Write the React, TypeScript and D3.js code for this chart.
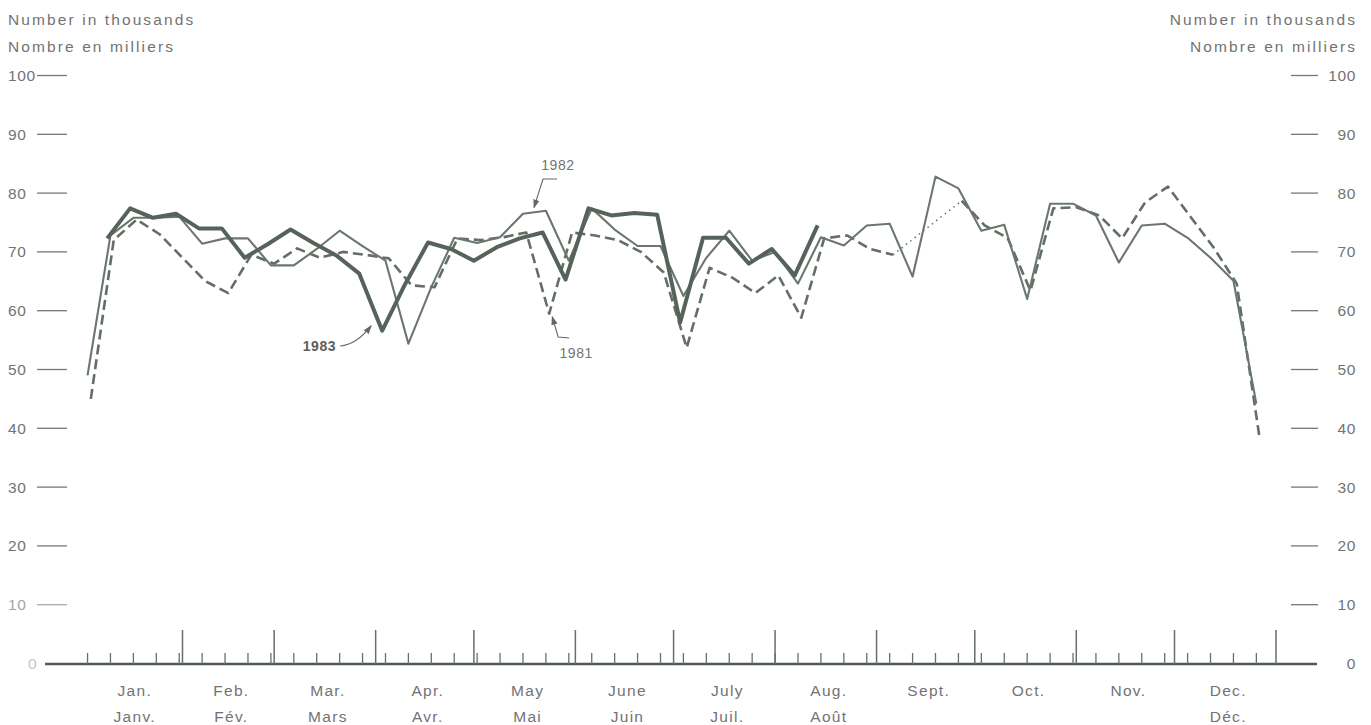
import React from "react";
import * as d3 from "d3";

// ---------- data ----------
const monthStartDays = [0, 31, 59, 90, 120, 151, 181, 212, 243, 273, 304, 334, 365];
const monthLabelsEn = ["Jan.", "Feb.", "Mar.", "Apr.", "May", "June", "July", "Aug.", "Sept.", "Oct.", "Nov.", "Dec."];
const monthLabelsFr = ["Janv.", "Fév.", "Mars", "Avr.", "Mai", "Juin", "Juil.", "Août", "", "", "", "Déc."];
const yTicks = [0, 10, 20, 30, 40, 50, 60, 70, 80, 90, 100];

// day-of-year (0 = Jan 1) of the first week-ending Saturday of each year
const firstWeekEnd1981 = 2;
const firstWeekEnd1982 = 1;
const firstWeekEnd1983 = 7;

// weekly values, number in thousands
const values1981: (number | null)[] = [
  45, 72, 75.5, 73, 69, 65, 63, 69.5, 68, 70.6,
  69, 70, 69.5, 68.9, 64.3, 64, 72.3, 72, 72.5, 73.3,
  59.5, 73.3, 72.8, 72, 70, 66.5, 53.7, 67.3, 65.6, 63,
  66, 58.8, 72.3, 72.8, 70.5, 69.5, null, null, 78.7, 74.5,
  72.4, 63.4, 77.4, 77.6, 76.2, 72.3, 78.4, 81.1, 75.9, 70.7,
  64.6, 38.3,
];
const values1982: number[] = [
  49, 72.8, 75.8, 75.8, 76, 71.4, 72.3, 72.3, 67.7, 67.7,
  70.5, 73.6, 71, 68.5, 54.4, 64, 72.4, 71.5, 72.5, 76.5,
  77, 68.5, 77.4, 73.8, 71, 71, 62.5, 69, 73.6, 68.5,
  70, 64.6, 72.5, 71.1, 74.5, 74.8, 65.8, 82.8, 80.8, 73.6,
  74.6, 62, 78.2, 78.2, 76.2, 68.2, 74.5, 74.8, 72.4, 69,
  65.1, 44.2,
];
const values1983: number[] = [
  72.3, 77.4, 75.8, 76.5, 74, 74, 69, 71.3, 73.8, 71.5,
  69.4, 66.3, 56.6, 64.5, 71.6, 70.5, 68.5, 70.8, 72.3, 73.3,
  65.3, 77.4, 76.2, 76.6, 76.3, 58, 72.4, 72.4, 68, 70.5,
  66, 74.5,
];
const weeklyTickCount = 52;

const FONT = "'Liberation Sans', Arial, Helvetica, sans-serif";
const TEXT = "#737373";
const LINE_THICK = "#56635a";
const LINE_THIN = "#6b776d";
const LINE_DASH = "#636e65";

type P = { d: number; v: number | null; i: number };

export default function App() {
  const W = 1371;
  const H = 725;
  const x = d3.scaleLinear().domain([0, 365]).range([81, 1276]);
  const y = d3.scaleLinear().domain([0, 100]).range([663.5, 75.5]);

  const toPts = (first: number, vals: (number | null)[]): P[] =>
    vals.map((v, i) => ({ d: first + 7 * i + 1, v, i }));

  const line = d3
    .line<P>()
    .defined((p) => p.v != null)
    .x((p) => x(p.d))
    .y((p) => y(p.v as number));

  const p81 = toPts(firstWeekEnd1981, values1981);
  const p82 = toPts(firstWeekEnd1982, values1982);
  const p83 = toPts(firstWeekEnd1983, values1983);

  // dotted bridges over missing weeks
  const bridges: P[][] = [];
  for (let i = 1; i < p81.length; i++) {
    if (p81[i].v == null && p81[i - 1].v != null) {
      let j = i;
      while (j < p81.length && p81[j].v == null) j++;
      if (j < p81.length) bridges.push([p81[i - 1], p81[j]]);
    }
  }

  const weekTicks = d3.range(weeklyTickCount).map((k) => firstWeekEnd1982 + 7 * k + 1);
  const monthEdges = monthStartDays.slice(1);

  const dip83 = p83[12];
  const peak82 = p82[19];
  const dip81 = p81[20];

  const baselineY = y(0) + 0.5;

  return (
    <div style={{ position: "absolute", left: 0, top: 0 }}>
      <svg width={W} height={H} viewBox={`0 0 ${W} ${H}`} style={{ display: "block", background: "#fff" }}>
        <defs>
          <marker id="arr" viewBox="0 0 10 10" refX="9" refY="5" markerWidth="9" markerHeight="9" orient="auto" markerUnits="userSpaceOnUse">
            <path d="M0,1.5 L10,5 L0,8.5 Z" fill="#666" />
          </marker>
        </defs>

        {/* headers */}
        <g fontFamily={FONT} fill={TEXT} fontSize={15.5} letterSpacing={2.1}>
          <text x={8} y={25}>Number in thousands</text>
          <text x={8} y={52}>Nombre en milliers</text>
          <text x={1357} y={25} textAnchor="end">Number in thousands</text>
          <text x={1357} y={52} textAnchor="end">Nombre en milliers</text>
        </g>

        {/* y ticks */}
        <g fontFamily={FONT} fontSize={15.5} letterSpacing={0.6}>
          {yTicks.map((t) => {
            const yy = y(t);
            const faded = t <= 10;
            return (
              <g key={t}>
                {t > 0 && <line x1={37} x2={67} y1={yy} y2={yy} stroke={faded ? "#aaa" : "#777"} strokeWidth={1.3} />}
                {t > 0 ? (
                  <text x={8} y={yy + 5.5} fill={faded ? "#a5a5a5" : TEXT}>{t}</text>
                ) : (
                  <text x={28} y={yy + 5.5} fill="#c4c4c4">{t}</text>
                )}
                {t > 0 && <line x1={1291} x2={1318} y1={yy} y2={yy} stroke="#777" strokeWidth={1.3} />}
                <text x={1356} y={yy + 5.5} fill={TEXT} textAnchor="end">{t}</text>
              </g>
            );
          })}
        </g>

        {/* x axis */}
        <line x1={45} x2={1317} y1={baselineY} y2={baselineY} stroke="#4f5a51" strokeWidth={2.5} />
        {weekTicks.map((d) => (
          <line key={"w" + d} x1={x(d)} x2={x(d)} y1={baselineY} y2={baselineY - 11} stroke="#66706a" strokeWidth={1.3} />
        ))}
        {monthEdges.map((d) => (
          <line key={"m" + d} x1={x(d)} x2={x(d)} y1={baselineY} y2={baselineY - 34} stroke="#66706a" strokeWidth={1.5} />
        ))}
        <g fontFamily={FONT} fill={TEXT} fontSize={15.5} letterSpacing={1.3} textAnchor="middle">
          {monthLabelsEn.map((m, k) => {
            const cx = x((monthStartDays[k] + monthStartDays[k + 1]) / 2) + 3;
            return (
              <g key={m}>
                <text x={cx} y={696}>{m}</text>
                {monthLabelsFr[k] && <text x={cx} y={722}>{monthLabelsFr[k]}</text>}
              </g>
            );
          })}
        </g>

        {/* series */}
        {bridges.map((b, k) => (
          <path key={"b" + k} d={line(b) || ""} fill="none" stroke={LINE_DASH} strokeWidth={1.5} strokeDasharray="1.5 4" />
        ))}
        <path d={line(p81) || ""} fill="none" stroke={LINE_DASH} strokeWidth={2.6} strokeDasharray="10 5" strokeLinejoin="round" />
        <path d={line(p82) || ""} fill="none" stroke={LINE_THIN} strokeWidth={2.1} strokeLinejoin="round" />
        <path d={line(p83) || ""} fill="none" stroke={LINE_THICK} strokeWidth={4} strokeLinejoin="round" />

        {/* annotations */}
        <g fontFamily={FONT} fontSize={14} fill={TEXT} letterSpacing={0.6}>
          <text x={x(dip83.d) - 46} y={351} textAnchor="end" fontWeight="bold" fill="#5e5e5e">1983</text>
          <path
            d={`M${x(dip83.d) - 42},${346} Q${x(dip83.d) - 26},${345} ${x(dip83.d) - 11},${y(dip83.v as number) - 5}`}
            fill="none" stroke="#666" strokeWidth={1.1} markerEnd="url(#arr)" />

          <text x={x(peak82.d) + 35} y={170} textAnchor="middle">1982</text>
          <path
            d={`M${x(peak82.d) + 34},179 L${x(peak82.d) + 20},179 L${x(peak82.d) + 11},${y(peak82.v as number) - 6}`}
            fill="none" stroke="#666" strokeWidth={1.1} markerEnd="url(#arr)" />

          <text x={x(dip81.d) + 27} y={358} textAnchor="middle">1981</text>
          <path
            d={`M${x(dip81.d) + 20},338 L${x(dip81.d) + 9},337 L${x(dip81.d) + 3},${y(dip81.v as number) + 3}`}
            fill="none" stroke="#666" strokeWidth={1.1} markerEnd="url(#arr)" />
        </g>
      </svg>
    </div>
  );
}
